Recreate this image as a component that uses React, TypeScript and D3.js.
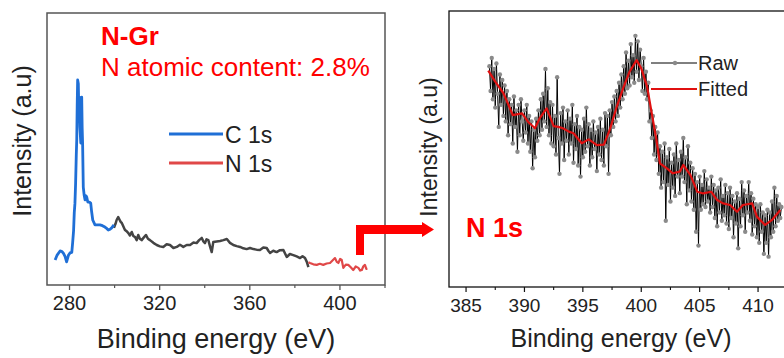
import React from "react";
import * as d3 from "d3";

// ---------- Left panel (survey) ----------
const c1sData: [number, number][] = [
  [273.6, 9.2], [274.5, 11.0], [275.8, 12.5], [276.5, 12.4], [277.2, 11.8], [278.0, 10.5], [278.7, 8.5],
  [279.5, 10.9], [280.2, 11.8], [281.0, 12.0], [281.4, 15.8], [281.8, 20.0], [282.1, 26.5], [282.4, 30.0],
  [282.7, 37.5], [283.0, 48.0], [283.2, 53.3], [283.4, 66.0], [283.6, 75.4], [283.9, 74.0], [284.1, 65.0],
  [284.3, 69.1], [284.6, 58.0], [285.0, 52.2], [285.4, 69.1], [285.6, 58.0], [285.8, 52.2], [286.1, 36.0],
  [286.5, 33.0], [286.9, 31.3], [287.3, 32.8], [287.6, 32.4], [288.1, 30.5], [288.8, 30.5], [289.4, 30.1],
  [289.8, 27.0], [290.3, 23.9], [291.3, 22.1], [292.4, 22.1], [293.5, 22.1], [294.6, 21.8], [295.7, 21.3],
  [296.5, 20.8], [297.2, 20.2], [298.0, 20.5], [298.7, 21.0], [299.7, 22.1],
];
const surveyData: [number, number][] = [
  [299.7, 21.0], [300.4, 22.5], [300.9, 23.9], [301.6, 25.0], [302.2, 24.0], [302.7, 23.2], [303.2, 22.8],
  [303.9, 21.5], [304.6, 20.2], [305.3, 19.8], [306.1, 19.1], [306.8, 18.2], [307.6, 19.5], [308.3, 18.0],
  [309.1, 17.6], [309.8, 16.5], [310.5, 18.4], [311.2, 17.0], [312.0, 16.5], [312.9, 17.4], [313.9, 18.4],
  [314.8, 17.0], [315.7, 16.5], [317.2, 15.5], [318.7, 14.7], [320.1, 14.2], [321.6, 14.0], [323.1, 15.0],
  [324.6, 14.7], [326.1, 13.6], [327.6, 14.0], [329.0, 14.8], [330.5, 14.0], [332.0, 14.7], [333.5, 14.7],
  [335.0, 15.6], [336.4, 15.4], [337.5, 16.5], [338.7, 17.3], [339.4, 16.0], [340.1, 15.4], [340.8, 16.8],
  [341.6, 16.5], [342.4, 14.0], [343.1, 12.1], [343.8, 15.8], [345.3, 16.0], [346.8, 16.2], [348.3, 16.5],
  [349.8, 16.9], [351.2, 15.5], [352.7, 14.7], [354.2, 14.3], [355.7, 14.0], [357.1, 13.5], [358.6, 13.2],
  [360.1, 13.6], [361.6, 13.2], [363.0, 13.0], [364.5, 12.9], [366.0, 13.8], [367.5, 13.6], [368.3, 12.5],
  [369.0, 11.8], [370.4, 12.6], [371.9, 12.1], [373.4, 12.8], [374.9, 12.9], [375.7, 11.5], [376.4, 10.3],
  [377.8, 11.4], [379.3, 11.0], [380.8, 10.5], [382.3, 9.9], [383.4, 10.6], [384.5, 9.9], [385.3, 8.5],
  [386.0, 6.6],
];
const n1sData: [number, number][] = [
  [386.0, 8.4], [386.7, 8.1], [388.2, 7.6], [389.7, 7.4], [391.1, 7.8], [392.6, 7.4], [394.1, 7.9],
  [395.6, 8.1], [396.7, 9.0], [397.8, 9.9], [398.6, 8.5], [399.3, 8.1], [400.1, 9.6], [400.8, 9.2],
  [401.5, 6.3], [402.6, 7.5], [403.7, 7.4], [404.8, 6.5], [405.9, 5.5], [407.0, 6.8], [408.2, 6.3],
  [409.0, 5.3], [409.7, 5.5], [410.4, 6.9], [411.1, 7.4], [411.7, 5.9], [412.2, 5.9],
];
const leftTicks = [280, 320, 360, 400];
const leftMinorTicks = [300, 340, 380, 420];

// ---------- Right panel (N 1s high resolution) ----------
const rawStart = 387.0;
const rawStep = 0.1;
const rawValues = [
  80, 71, 83, 68, 79, 65, 81, 70, 58, 77,
  66, 75, 62, 73, 60, 71, 55, 68, 59, 66,
  52, 69, 58, 64, 49, 66, 55, 68, 60, 53,
  64, 56, 66, 52, 62, 49, 60, 43, 57, 47,
  61, 53, 64, 55, 68, 57, 70, 60, 79, 58,
  72, 55, 67, 52, 66, 51, 62, 48, 76, 54,
  41, 63, 52, 65, 46, 60, 53, 64, 48, 61,
  52, 66, 45, 59, 50, 62, 44, 58, 40, 57,
  47, 61, 49, 65, 51, 59, 44, 57, 47, 60,
  50, 56, 42, 58, 48, 61, 46, 57, 44, 63,
  51, 62, 41, 64, 55, 67, 58, 69, 60, 71,
  62, 74, 65, 77, 68, 80, 70, 85, 72, 82,
  73, 88, 76, 84, 74, 91, 78, 89, 75, 86,
  80, 71, 83, 70, 78, 68, 74, 60, 64, 54,
  62, 48, 58, 46, 56, 41, 51, 36, 49, 38,
  52, 24, 47, 37, 50, 31, 45, 36, 48, 33,
  52, 40, 46, 34, 49, 40, 54, 38, 47, 30,
  51, 35, 45, 31, 43, 28, 41, 20, 38, 15,
  40, 28, 37, 30, 42, 29, 39, 31, 36, 27,
  40, 29, 37, 25, 35, 22, 36, 27, 39, 24,
  33, 26, 37, 23, 34, 21, 36, 25, 33, 18,
  31, 23, 34, 14, 32, 22, 38, 26, 35, 20,
  33, 27, 38, 24, 34, 19, 32, 22, 30, 18,
  29, 16, 30, 20, 27, 12, 26, 16, 28, 11,
  27, 18, 31, 20, 36, 22, 33, 24, 30, 25,
  29,
];
const fitData: [number, number][] = [
  [386.9, 78.4], [387.5, 74.4], [388.2, 70.2], [389.0, 62.3], [389.8, 62.9], [390.3, 59.9], [390.9, 57.5],
  [391.3, 61.1], [391.9, 64.7], [392.5, 58.3], [392.9, 58.0], [393.3, 57.5], [393.8, 56.3], [394.2, 55.7],
  [394.9, 52.1], [395.5, 53.5], [396.2, 51.4], [396.8, 51.6], [397.3, 56.9], [397.9, 65.3], [398.5, 72.6],
  [399.0, 78.0], [399.6, 82.2], [400.0, 79.2], [400.5, 72.6], [400.9, 62.9], [401.3, 53.3], [401.6, 44.8],
  [402.2, 43.0], [402.7, 41.2], [403.3, 41.8], [403.6, 44.2], [404.2, 40.6], [404.8, 34.5], [405.3, 33.9],
  [406.0, 34.5], [406.5, 31.5], [407.0, 30.3], [407.6, 29.7], [408.2, 27.3], [408.7, 29.7], [409.5, 30.3],
  [409.9, 25.5], [410.6, 22.5], [411.2, 24.3], [411.9, 27.9],
];
const rightTicks = [385, 390, 395, 400, 405, 410];
const rightMinorTicks = [387.5, 392.5, 397.5, 402.5, 407.5, 412.5];

const FONT = "'Liberation Sans', Arial, sans-serif";

export default function App() {
  // left scales
  const xL = d3.scaleLinear().domain([270, 420]).range([47, 385]);
  const yL = d3.scaleLinear().domain([0, 100]).range([285, 13]);
  const lineL = d3.line<[number, number]>().x((d) => xL(d[0])).y((d) => yL(d[1]));

  // right scales
  const xR = d3.scaleLinear().domain([383.54, 414]).range([449, 449 + (414 - 383.54) * 11.68]);
  const yR = d3.scaleLinear().domain([0, 100]).range([287, 11]);
  const rawPts: [number, number][] = rawValues.map((v, i) => [rawStart + i * rawStep, v]);
  const lineR = d3.line<[number, number]>().x((d) => xR(d[0])).y((d) => yR(d[1]));

  return (
    <svg width={784} height={358} style={{ position: "absolute", left: 0, top: 0, background: "#fff" }} fontFamily={FONT}>
      <rect x={0} y={0} width={784} height={358} fill="#fff" />
      {/* ---------- LEFT PANEL ---------- */}
      <rect x={47} y={13} width={338} height={272} fill="none" stroke="#555" strokeWidth={1.5} />
      {leftTicks.map((t) => (
        <g key={t}>
          <line x1={xL(t)} x2={xL(t)} y1={285} y2={290} stroke="#555" strokeWidth={1.3} />
          <text x={xL(t)} y={310} fontSize={20} textAnchor="middle" fill="#222">{t}</text>
        </g>
      ))}
      {leftMinorTicks.map((t) => (
        <line key={t} x1={xL(t)} x2={xL(t)} y1={285} y2={288} stroke="#555" strokeWidth={1.2} />
      ))}
      <text x={216} y={348} fontSize={27} textAnchor="middle" fill="#222">Binding energy (eV)</text>
      <text transform="translate(31,141) rotate(-90)" fontSize={25} textAnchor="middle" fill="#222">Intensity (a.u)</text>

      <path d={lineL(surveyData) || ""} fill="none" stroke="#444" strokeWidth={2.5} strokeLinejoin="round" />
      <path d={lineL(n1sData) || ""} fill="none" stroke="#e04848" strokeWidth={2.2} strokeLinejoin="round" />
      <path d={lineL(c1sData) || ""} fill="none" stroke="#1f6fd6" strokeWidth={2.8} strokeLinejoin="round" />

      <text x={101} y={45} fontSize={26} fontWeight="bold" fill="#ff0000">N-Gr</text>
      <text x={101} y={76} fontSize={26} fill="#ff0000">N atomic content: 2.8%</text>

      <line x1={169} x2={223} y1={134} y2={134} stroke="#1f6fd6" strokeWidth={2.8} />
      <text x={225} y={143} fontSize={23} fill="#222">C 1s</text>
      <line x1={169} x2={223} y1={163} y2={163} stroke="#e04848" strokeWidth={2.8} />
      <text x={225} y={172} fontSize={23} fill="#222">N 1s</text>

      {/* arrow */}
      <rect x={356} y={225} width={8} height={30} fill="#ff0000" />
      <rect x={356} y={225} width={68} height={9} fill="#ff0000" />
      <polygon points="422,222 434,229.5 422,237" fill="#ff0000" />

      {/* ---------- RIGHT PANEL ---------- */}
      <rect x={449} y={11} width={360} height={276} fill="none" stroke="#111" strokeWidth={1.3} />
      {rightTicks.map((t) => (
        <g key={t}>
          <line x1={xR(t)} x2={xR(t)} y1={287} y2={292} stroke="#111" strokeWidth={1.2} />
          <text x={xR(t)} y={312} fontSize={19} textAnchor="middle" fill="#222">{t}</text>
        </g>
      ))}
      {rightMinorTicks.map((t) => (
        <line key={t} x1={xR(t)} x2={xR(t)} y1={287} y2={290} stroke="#111" strokeWidth={1.1} />
      ))}
      <text x={621} y={347} fontSize={25} textAnchor="middle" fill="#222">Binding energy (eV)</text>
      <text transform="translate(437,147) rotate(-90)" fontSize={23} textAnchor="middle" fill="#222">Intensity (a.u)</text>

      <path d={lineR(rawPts) || ""} fill="none" stroke="#000" strokeWidth={1} />
      {rawPts.map((d, i) => (
        <circle key={i} cx={xR(d[0])} cy={yR(d[1])} r={2.2} fill="#8a8a8a" />
      ))}
      <path d={lineR(fitData) || ""} fill="none" stroke="#e01010" strokeWidth={2.2} strokeLinejoin="round" />

      <text x={466} y={237} fontSize={27} fontWeight="bold" fill="#ff0000">N 1s</text>

      <line x1={651} x2={697} y1={63} y2={63} stroke="#000" strokeWidth={1} />
      <circle cx={675} cy={63} r={2.2} fill="#8a8a8a" />
      <text x={698} y={70} fontSize={20} fill="#222">Raw</text>
      <line x1={651} x2={697} y1={89} y2={89} stroke="#e01010" strokeWidth={2.2} />
      <text x={698} y={96} fontSize={20} fill="#222">Fitted</text>
    </svg>
  );
}
